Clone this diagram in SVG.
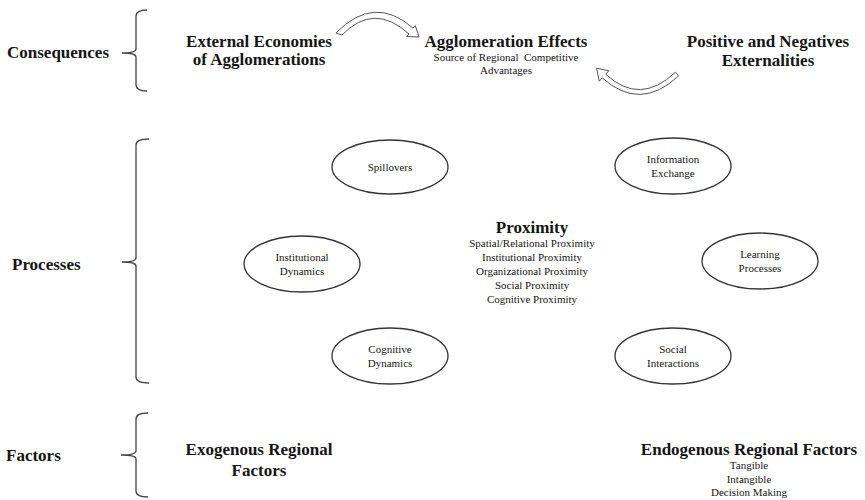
<svg xmlns="http://www.w3.org/2000/svg" width="865" height="500" viewBox="0 0 865 500">
<style>
text{font-family:"Liberation Serif","Times New Roman",serif;fill:#151515;text-anchor:middle}
.b{font-weight:bold;font-size:17px}
.s{font-size:11px}
.lab{text-anchor:start}
.brace{fill:none;stroke:#444;stroke-width:1.3}
.node ellipse{fill:#fff;stroke:#333;stroke-width:1.3}
.arr{fill:#fff;stroke:#555;stroke-width:1}
</style>
<rect width="865" height="500" fill="#fff"/>
<g id="labels">
<text class="b lab" x="7" y="58">Consequences</text>
<text class="b lab" x="12" y="270">Processes</text>
<text class="b lab" x="6" y="461">Factors</text>
</g>
<g id="braces">
<path class="brace" d="M147,10 Q136,10 136,16 L136,49 Q136,53 122,53 Q136,53 136,57 L136,85 Q136,91 147,91"/>
<path class="brace" d="M149,139 Q136,139 136,145 L136,258 Q136,262 122,262 Q136,262 136,266 L136,377 Q136,383 149,383"/>
<path class="brace" d="M148,413 Q136,413 136,419 L136,451 Q136,455 121,455 Q136,455 136,459 L136,491 Q136,497 148,497"/>
</g>
<g id="n-external">
<text class="b" x="259" y="47">External Economies</text>
<text class="b" x="259" y="65">of Agglomerations</text>
</g>
<g id="n-agglomeration">
<text class="b" x="506" y="47">Agglomeration Effects</text>
<text class="s" x="506" y="61" xml:space="preserve">Source of Regional  Competitive</text>
<text class="s" x="506" y="74">Advantages</text>
</g>
<g id="n-externalities">
<text class="b" x="768" y="47">Positive and Negatives</text>
<text class="b" x="768" y="66">Externalities</text>
</g>
<g id="connectors">
<path class="arr" d="M336,33 Q374,-6 413,28 L415.3,25.5 L419,37 L406.7,36.5 L409,34 Q374,2 342,35 Z"/>
<path class="arr" d="M678.7,75.8 Q640,112 602.3,77.9 L599.2,81.2 L596.6,68.2 L608.8,70.8 L605.7,74.2 Q640,106 675.3,72.2 Z"/>
</g>
<g id="n-spillovers" class="node">
<ellipse cx="390" cy="167" rx="58" ry="27"/>
<text class="s" x="390" y="171">Spillovers</text>
</g>
<g id="n-information" class="node">
<ellipse cx="673" cy="166" rx="58" ry="28"/>
<text class="s" x="673" y="163">Information</text>
<text class="s" x="673" y="177">Exchange</text>
</g>
<g id="n-institutional" class="node">
<ellipse cx="302" cy="264" rx="58" ry="28"/>
<text class="s" x="302" y="261">Institutional</text>
<text class="s" x="302" y="275">Dynamics</text>
</g>
<g id="n-learning" class="node">
<ellipse cx="760" cy="261" rx="58" ry="28"/>
<text class="s" x="760" y="258">Learning</text>
<text class="s" x="760" y="272">Processes</text>
</g>
<g id="n-cognitive" class="node">
<ellipse cx="390" cy="356" rx="58" ry="28"/>
<text class="s" x="390" y="353">Cognitive</text>
<text class="s" x="390" y="367">Dynamics</text>
</g>
<g id="n-social" class="node">
<ellipse cx="673" cy="356" rx="58" ry="28"/>
<text class="s" x="673" y="353">Social</text>
<text class="s" x="673" y="367">Interactions</text>
</g>
<g id="n-proximity" xml:space="preserve">
<text class="b" x="532" y="233">Proximity</text>
<text class="s" x="532" y="247">Spatial/Relational  Proximity</text>
<text class="s" x="532" y="261">Institutional  Proximity</text>
<text class="s" x="532" y="275">Organizational  Proximity</text>
<text class="s" x="532" y="289">Social  Proximity</text>
<text class="s" x="532" y="303">Cognitive  Proximity</text>
</g>
<g id="n-exogenous">
<text class="b" x="259" y="455">Exogenous Regional</text>
<text class="b" x="259" y="476">Factors</text>
</g>
<g id="n-endogenous" xml:space="preserve">
<text class="b" x="749" y="455">Endogenous Regional Factors</text>
<text class="s" x="749" y="469">Tangible</text>
<text class="s" x="749" y="483">Intangible</text>
<text class="s" x="749" y="496">Decision  Making</text>
</g>
</svg>
